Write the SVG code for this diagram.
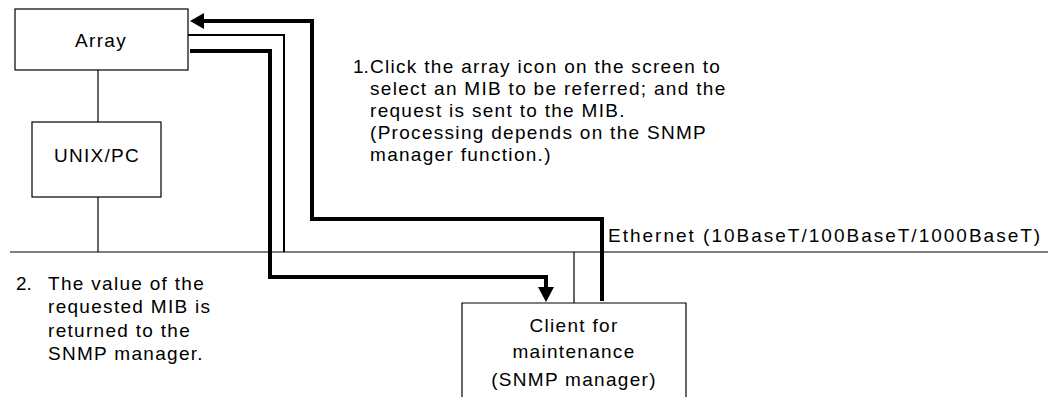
<svg xmlns="http://www.w3.org/2000/svg" width="1055" height="405" viewBox="0 0 1055 405">
  <style>
    .box { fill: #ffffff; stroke: #000000; stroke-width: 1.2; }
    .thin { fill: none; stroke: #000000; stroke-width: 1.2; }
    .mid { fill: none; stroke: #000000; stroke-width: 2; }
    .thick { fill: none; stroke: #000000; stroke-width: 4; stroke-linejoin: miter; }
    .head { fill: #000000; }
    text { font-family: "Liberation Sans", Arial, sans-serif; font-size: 19px; fill: #000000; letter-spacing: 1.3px; }
    .c { text-anchor: middle; }
    .num { letter-spacing: 0; }
  </style>

  <rect width="1055" height="405" fill="#ffffff"/>

  <!-- network backbone and drop lines -->
  <g id="network">
    <line class="thin" x1="10" y1="252" x2="1048" y2="252"/>
    <line class="thin" x1="98" y1="70" x2="98" y2="122"/>
    <line class="thin" x1="98" y1="197" x2="98" y2="252"/>
    <line class="thin" x1="574" y1="252" x2="574" y2="303"/>
    <text x="608" y="242" style="letter-spacing:2px">Ethernet (10BaseT/100BaseT/1000BaseT)</text>
  </g>

  <g id="array">
    <rect class="box" x="15" y="9" width="173" height="61"/>
    <text class="c" x="101" y="47">Array</text>
  </g>

  <g id="unix-pc">
    <rect class="box" x="32" y="122" width="129" height="75"/>
    <text class="c" x="97" y="162">UNIX/PC</text>
  </g>

  <g id="client">
    <path class="thin" d="M462,397 V303 H686 V397"/>
    <text class="c" x="574" y="332">Client for</text>
    <text class="c" x="574" y="358">maintenance</text>
    <text class="c" x="574" y="386">(SNMP manager)</text>
  </g>

  <!-- request / response paths -->
  <g id="connectors">
    <path class="thick" d="M602,301 V219 H312 V21 H202"/>
    <polygon class="head" points="190,21 204,13 204,29"/>
    <path class="mid" d="M188,35 H284 V252"/>
    <path class="thick" d="M190,51 H270 V277 H546 V288"/>
    <polygon class="head" points="546,302 538,287 554,287"/>
  </g>

  <g id="notes">
    <text class="num" x="353" y="73">1.</text>
    <text x="370" y="73">Click the array icon on the screen to</text>
    <text x="370" y="95">select an MIB to be referred; and the</text>
    <text x="370" y="117">request is sent to the MIB.</text>
    <text x="370" y="139">(Processing depends on the SNMP</text>
    <text x="370" y="161">manager function.)</text>

    <text class="num" x="16" y="290">2.</text>
    <text x="48" y="290">The value of the</text>
    <text x="48" y="313">requested MIB is</text>
    <text x="48" y="337">returned to the</text>
    <text x="48" y="360">SNMP manager.</text>
  </g>
</svg>
